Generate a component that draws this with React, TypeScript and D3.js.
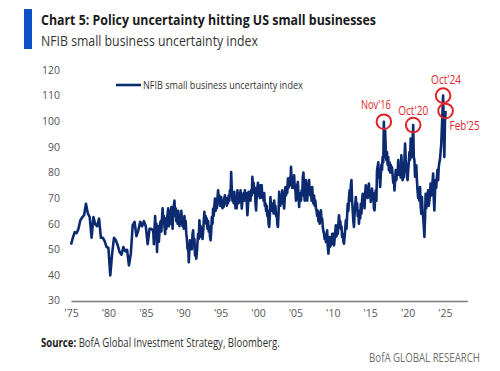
import React, {useEffect, useLayoutEffect, useRef, useState} from 'react';
import {select, scaleLinear, line, axisLeft, axisBottom} from 'd3';

// NFIB uncertainty index, quarterly survey until 1985, monthly from Jan 1986
const quarterly1975to1985 = [
  51.8, 54.5, 56.7, 56.3, 58, 61.3, 62.5, 63.3, 67.8, 64, 62.6, 54.5,
  62.6, 59.7, 59, 62, 54.5, 54.5, 53.2, 50.9, 50.6, 39.8, 48.3, 54.5,
  53.5, 51.5, 48.9, 47.9, 50.9, 49.2, 49.8, 43.7, 48.3, 59.4, 60.7, 55.1,
  57.4, 60.7, 59, 61, 59, 52, 58, 58,
];
const monthly1986to1995 = [
  57, 52, 58, 63, 56, 60, 49, 57, 59, 53, 57, 60,
  61, 57, 62, 66, 61, 63, 59, 56, 62, 58, 61, 64,
  66, 59, 63, 65, 60, 66.5, 62, 58, 65, 67, 69, 63,
  66, 61, 64, 60, 65, 62, 59, 63, 60, 65, 61, 59,
  62, 58, 63, 59, 61, 56, 54, 50, 51, 45, 50, 53.5,
  50, 53, 50, 56, 57.4, 52, 54, 47.6, 50, 46.3, 49, 53,
  56, 54, 61.3, 57, 59, 54.8, 56, 54, 57, 61, 64.6, 61,
  63, 60, 62, 58, 61, 57, 59, 55, 53.5, 57, 62.6, 60,
  65.9, 63, 67, 69.8, 65, 68, 66, 70, 73, 70, 71, 67,
  68, 70.4, 67, 66, 69, 66.5, 70, 71.1, 68, 70, 67, 70,
];
const monthly1996to2005 = [
  68, 71, 69, 73, 71, 80.2, 73, 69, 71, 68, 72.4, 69,
  66, 69, 66, 73, 70, 68, 72, 69, 73, 70, 65.9, 69,
  70, 72, 69, 73, 70, 72, 68, 63.3, 67, 72.4, 69, 71,
  69, 73, 71, 78.3, 74, 76, 72, 74, 68, 65.2, 71, 74,
  76, 71, 73, 70, 75, 73, 75, 70, 72, 69, 72, 67,
  68, 65, 67, 63, 65, 60, 58.7, 63, 70.4, 66, 68, 65,
  67, 64, 69, 66, 67, 63, 64, 60, 58.7, 64, 72.4, 69,
  67, 71, 68, 73, 70, 68, 65.9, 70, 74.3, 71, 74, 72,
  77.6, 74, 76, 78, 75, 82.2, 77, 74, 77, 74, 78.9, 74,
  73, 69, 72, 75, 76.3, 71, 66.5, 70, 72, 69, 73, 71,
];
const monthly2006to2015 = [
  78.3, 80, 72, 69, 74, 77, 71, 69, 73, 75, 77, 72,
  71, 74, 69, 74.3, 70, 67.8, 71, 67, 69, 66, 65, 63,
  65, 61, 63, 60, 64, 65.2, 61, 62, 58.7, 57, 56, 54,
  55, 52.8, 56, 57.4, 51, 48.3, 52, 54.8, 51, 53, 52, 56,
  54, 56, 51.5, 54, 57, 59.4, 55, 58, 56, 60, 63.3, 60,
  61, 58, 59, 54.8, 56, 53, 52.2, 55, 58, 61.3, 58, 63,
  67.8, 65, 70, 73, 69, 75, 77, 69, 65.2, 61, 58.7, 64,
  67, 70.4, 66, 68, 63, 65, 60, 64, 62, 67.8, 64, 69,
  71.7, 68, 70, 66, 72, 75, 71, 73, 70, 74, 75.7, 71,
  72, 68.5, 72, 73.7, 70, 72, 66, 65.2, 70, 73, 69, 80.9,
];
const monthly2016to2025 = [
  82.2, 84, 78, 80, 74.3, 79, 83, 81, 86, 84, 99.8, 86,
  96.5, 89, 84.8, 88, 83, 86, 81, 84, 80, 83, 80, 82,
  79, 76, 78, 73, 77, 80.9, 77, 80, 79, 84.8, 81, 79,
  81, 78, 86.7, 82, 77, 80, 78, 85, 91.3, 85, 82, 79,
  77, 81, 84, 88, 85, 93.2, 89, 86, 92, 98.5, 86, 84.8,
  78.3, 81, 82.8, 77, 73, 70, 72, 69, 74.3, 67, 63.9, 70.4,
  65, 62.6, 59, 54.8, 62, 71.7, 66, 68, 71, 73, 67, 69,
  72, 75.7, 71, 73, 76, 79.6, 70, 65.2, 72, 77, 74, 78,
  81, 77, 82, 84, 85, 88, 91, 97, 103, 110, 98, 86,
  100, 104,
];

const yTicks = [30, 40, 50, 60, 70, 80, 90, 100, 110, 120];
const xTicks = [1975, 1980, 1985, 1990, 1995, 2000, 2005, 2010, 2015, 2020, 2025];
const calloutLabels = ["Nov'16", "Oct'20", "Oct'24", "Feb'25"];
const calloutDates = [2016 + 10 / 12, 2020 + 9 / 12, 2024 + 9 / 12, 2025 + 1 / 12];

const series = [
  ...quarterly1975to1985.map((v, i) => ({t: 1975 + i / 4, v})),
  ...[...monthly1986to1995, ...monthly1996to2005, ...monthly2006to2015, ...monthly2016to2025]
    .map((v, i) => ({t: 1986 + i / 12, v})),
];

const NAVY = '#0c2a70';
const RED = '#e1242a';
const FONT = "'Open Sans', sans-serif";

// condensed text: squeeze horizontally to a target width (BofA font is narrow)
function FitText({x, y, width, anchor = 'start', children, ...rest}: any) {
  const ref = useRef<SVGTextElement>(null);
  const [sx, setSx] = useState(1);
  useLayoutEffect(() => {
    const w = ref.current ? ref.current.getComputedTextLength() : 0;
    if (w > 0) setSx(width / w);
  }, [width]);
  return (
    <text ref={ref} transform={`translate(${x},${y}) scale(${sx},1)`} textAnchor={anchor} {...rest}>
      {children}
    </text>
  );
}

export default function App() {
  const xAxisRef = useRef<SVGGElement>(null);
  const yAxisRef = useRef<SVGGElement>(null);

  const x = scaleLinear().domain([1975, 2028]).range([71, 467.4]);
  const y = scaleLinear().domain([30, 120]).range([300.5, 70]);

  const path = line<{t: number; v: number}>()
    .x(d => x(d.t))
    .y(d => y(d.v))(series);

  useEffect(() => {
    const xa = axisBottom(x)
      .tickValues(xTicks)
      .tickSize(0)
      .tickSizeOuter(0)
      .tickPadding(9)
      .tickFormat(d => "'" + String(+d % 100).padStart(2, '0'));
    const gx = select(xAxisRef.current).call(xa as any);
    gx.select('.domain').attr('stroke', '#7a7a7a').attr('stroke-width', 1.6);
    gx.selectAll('text').attr('fill', '#555').style('font-size', '10.5px').style('font-family', FONT);

    const ya = axisLeft(y).tickValues(yTicks).tickSize(0).tickPadding(11);
    const gy = select(yAxisRef.current).call(ya as any);
    gy.select('.domain').remove();
    gy.selectAll('text').attr('fill', '#555').style('font-size', '10.5px').style('font-family', FONT);
  }, []);

  const offsets = [
    {dx: -8, dy: -13, anchor: 'middle'},
    {dx: 0, dy: -10, anchor: 'middle'},
    {dx: 3, dy: -12, anchor: 'middle'},
    {dx: 4, dy: 19, anchor: 'start'},
  ];

  const callouts = calloutDates.map((t, i) => {
    const p = series.reduce((a, b) => (Math.abs(b.t - t) < Math.abs(a.t - t) ? b : a));
    return {label: calloutLabels[i], cx: x(p.t), cy: y(p.v), ...offsets[i]};
  });

  return (
    <svg width={500} height={371} style={{position: 'absolute', left: 0, top: 0, background: '#fff'}}
      fontFamily={FONT}>
      <rect x={24} y={9} width={8} height={40} fill="#0b52c9" />
      <FitText x={41} y={25} width={335} fontSize={15} fontWeight={700} fill="#1a1a1a">
        Chart 5: Policy uncertainty hitting US small businesses
      </FitText>
      <FitText x={41} y={46} width={217} fontSize={15} fill="#333">
        NFIB small business uncertainty index
      </FitText>

      <g ref={yAxisRef} transform={`translate(${x(1975)},0)`} />
      <g ref={xAxisRef} transform="translate(0,301)" />

      <line x1={116} x2={141} y1={85} y2={85} stroke={NAVY} strokeWidth={2.6} />
      <FitText x={143} y={89} width={160} fontSize={11} fill="#333">
        NFIB small business uncertainty index
      </FitText>

      <path d={path ?? ''} fill="none" stroke={NAVY} strokeWidth={2.6} strokeLinejoin="round" />

      {callouts.map(c => (
        <g key={c.label}>
          <circle cx={c.cx} cy={c.cy} r={7.3} fill="none" stroke={RED} strokeWidth={2} />
          <FitText x={c.cx + c.dx} y={c.cy + c.dy} width={30} anchor={c.anchor} fontSize={12} fill={RED}>
            {c.label}
          </FitText>
        </g>
      ))}

      <FitText x={41} y={347} width={239} fontSize={13} fill="#333">
        <tspan fontWeight={700} fill="#1a1a1a">Source:</tspan> BofA Global Investment Strategy, Bloomberg.
      </FitText>
      <FitText x={480} y={362} width={111} anchor="end" fontSize={12.5} fill="#6f6f6f">
        BofA GLOBAL RESEARCH
      </FitText>
    </svg>
  );
}
